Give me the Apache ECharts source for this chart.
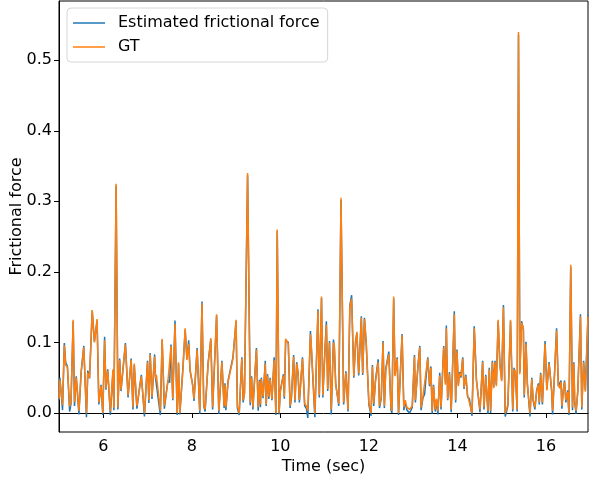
<!DOCTYPE html>
<html>
<head>
<meta charset="utf-8">
<script src="https://cdn.jsdelivr.net/npm/echarts@6/dist/echarts.min.js"></script>
<style>
html,body{margin:0;padding:0;background:#fff;}
#chart{width:589px;height:478px;}
</style>
</head>
<body>
<div id="chart"></div>
<script>
const times = [
  5.00,5.02,5.08,5.12,5.15,5.19,5.24,5.27,5.32,5.35,5.39,5.45,5.50,5.56,5.62,5.65,5.69,5.75,5.80,5.86,5.90,5.95,5.99,
  6.03,6.06,6.10,6.16,6.22,6.24,6.29,6.33,6.37,6.40,6.50,6.56,6.63,6.67,6.70,6.76,6.81,6.86,6.93,
  7.00,7.03,7.06,7.10,7.16,7.18,7.20,7.29,7.33,7.38,7.46,7.50,7.53,7.57,7.62,7.67,7.70,7.73,7.80,7.82,7.85,7.89,7.93,7.96,
  8.02,8.05,8.12,8.18,8.23,8.27,8.30,8.37,8.43,8.47,8.50,8.56,8.61,8.68,8.73,8.75,8.77,8.82,8.85,8.93,
  9.00,9.03,9.07,9.13,9.16,9.19,9.26,9.32,9.35,9.38,9.46,9.50,9.53,9.55,9.57,9.61,9.66,9.68,9.71,9.74,9.77,9.81,9.86,9.90,9.93,9.97,
  10.00,10.07,10.09,10.12,10.18,10.22,10.25,10.30,10.33,10.37,10.40,10.43,10.50,10.55,10.59,10.62,10.68,10.70,10.78,10.85,10.88,10.93,10.96,
  11.01,11.04,11.07,11.11,11.15,11.20,11.22,11.25,11.32,11.37,11.43,11.48,11.53,11.57,11.61,11.66,11.70,11.73,11.77,11.83,11.86,11.90,11.94,
  12.00,12.05,12.08,12.11,12.15,12.21,12.24,12.28,12.32,12.35,12.38,12.45,12.50,12.52,12.56,12.59,12.64,12.67,12.75,12.79,12.82,12.86,12.92,12.98,
  13.03,13.05,13.11,13.15,13.18,13.22,13.26,13.33,13.37,13.40,13.43,13.46,13.50,13.53,13.56,13.60,13.63,13.69,13.73,13.75,13.78,13.82,13.86,13.93,13.96,13.99,
  14.02,14.05,14.08,14.12,14.15,14.19,14.23,14.27,14.33,14.38,14.43,14.51,14.57,14.60,14.64,14.69,14.72,14.75,14.79,14.82,14.85,14.88,14.92,14.96,
  15.00,15.04,15.08,15.11,15.14,15.20,15.25,15.28,15.31,15.35,15.38,15.41,15.45,15.49,15.51,15.55,15.58,15.64,15.68,15.71,15.75,15.79,15.83,15.85,15.88,15.92,15.98,
  16.02,16.07,16.13,16.15,16.20,16.24,16.28,16.31,16.34,16.36,16.39,16.42,16.45,16.49,16.52,16.56,16.60,16.63,16.65,16.68,16.72,16.78,16.81,16.85,16.89,16.95
];

const gtForce = [
  0.020,0.047,0.011,0.096,0.068,0.065,0.009,0.015,0.132,0.015,0.050,0.003,0.057,0.093,0.000,0.057,0.050,0.146,0.100,0.133,0.015,0.038,0.000,
  0.103,0.035,0.060,0.002,0.062,0.007,0.325,0.008,0.075,0.033,0.097,0.025,0.075,0.008,0.070,0.010,0.030,0.052,0.000,
  0.072,0.018,0.083,0.023,0.080,0.048,0.054,0.003,0.105,0.010,0.044,0.044,0.095,0.020,0.126,0.000,0.072,0.000,0.062,0.064,0.120,0.075,0.098,0.062,
  0.038,0.020,0.090,0.003,0.155,0.012,0.005,0.070,0.106,0.008,0.006,0.140,0.003,0.072,0.010,0.040,0.008,0.044,0.046,0.077,
  0.132,0.010,0.000,0.077,0.018,0.027,0.340,0.015,0.050,0.008,0.090,0.008,0.045,0.012,0.048,0.023,0.070,0.012,0.053,0.023,0.048,0.020,0.075,0.000,0.260,0.000,
  0.030,0.053,0.023,0.105,0.098,0.010,0.023,0.080,0.018,0.070,0.058,0.018,0.077,0.013,0.010,0.003,0.112,0.094,0.000,0.145,0.025,0.165,0.025,
  0.090,0.125,0.034,0.100,0.005,0.100,0.095,0.040,0.013,0.305,0.015,0.057,0.005,0.150,0.162,0.052,0.100,0.115,0.056,0.135,0.056,0.133,0.100,
  0.015,0.000,0.066,0.013,0.045,0.072,0.010,0.023,0.100,0.010,0.060,0.083,0.008,0.003,0.165,0.052,0.077,0.000,0.110,0.008,0.018,0.008,0.005,0.010,
  0.080,0.018,0.066,0.093,0.008,0.023,0.025,0.077,0.040,0.064,0.003,0.038,0.005,0.020,0.003,0.053,0.008,0.093,0.040,0.120,0.020,0.056,0.005,0.140,0.018,0.088,
  0.038,0.056,0.052,0.077,0.036,0.052,0.025,0.023,0.000,0.120,0.045,0.005,0.072,0.008,0.052,0.003,0.062,0.003,0.072,0.035,0.072,0.038,0.132,0.067,
  0.045,0.150,0.000,0.005,0.012,0.132,0.005,0.062,0.058,0.005,0.540,0.055,0.128,0.120,0.025,0.098,0.040,0.000,0.048,0.020,0.008,0.030,0.040,0.015,0.055,0.015,0.098,
  0.032,0.070,0.032,0.003,0.062,0.117,0.040,0.035,0.044,0.010,0.030,0.044,0.018,0.030,0.000,0.210,0.008,0.070,0.018,0.003,0.030,0.137,0.008,0.072,0.030,0.137
];

const estForce = [
  0.018,0.050,0.004,0.099,0.072,0.066,0.002,0.013,0.130,0.010,0.052,-0.002,0.058,0.095,-0.006,0.060,0.049,0.145,0.101,0.131,0.012,0.040,-0.003,
  0.108,0.033,0.062,-0.003,0.060,0.004,0.322,0.005,0.077,0.031,0.099,0.022,0.077,0.005,0.068,0.006,0.032,0.054,-0.005,
  0.074,0.014,0.085,0.020,0.083,0.050,0.052,-0.003,0.103,0.006,0.046,0.043,0.097,0.018,0.131,-0.003,0.070,-0.002,0.065,0.066,0.118,0.077,0.103,0.060,
  0.040,0.017,0.092,-0.001,0.158,0.010,0.002,0.072,0.104,0.005,0.003,0.138,-0.001,0.074,0.007,0.042,0.004,0.046,0.045,0.079,
  0.130,0.007,-0.003,0.079,0.015,0.029,0.337,0.011,0.052,0.005,0.092,0.003,0.047,0.008,0.050,0.021,0.074,0.010,0.055,0.020,0.050,0.018,0.079,-0.003,0.258,-0.002,
  0.032,0.055,0.020,0.103,0.100,0.007,0.021,0.082,0.015,0.072,0.055,0.015,0.079,0.010,0.006,-0.007,0.116,0.092,-0.006,0.147,0.022,0.163,0.022,
  0.092,0.130,0.031,0.102,-0.002,0.104,0.093,0.042,0.010,0.302,0.012,0.059,0.002,0.152,0.167,0.050,0.102,0.113,0.053,0.137,0.054,0.135,0.098,
  0.012,-0.004,0.068,0.010,0.047,0.076,0.007,0.021,0.102,0.007,0.062,0.087,0.004,0.000,0.162,0.054,0.079,-0.003,0.112,0.004,0.016,0.004,0.000,0.008,
  0.082,0.015,0.068,0.095,0.004,0.021,0.027,0.079,0.038,0.066,-0.001,0.040,0.002,0.018,-0.002,0.057,0.005,0.095,0.042,0.124,0.018,0.058,0.001,0.144,0.015,0.090,
  0.040,0.058,0.050,0.079,0.034,0.054,0.023,0.020,-0.004,0.123,0.047,0.001,0.074,0.005,0.054,-0.001,0.064,0.000,0.074,0.037,0.074,0.040,0.130,0.069,
  0.047,0.153,-0.005,0.002,0.010,0.130,0.002,0.064,0.056,0.002,0.536,0.058,0.130,0.118,0.022,0.101,0.042,-0.005,0.050,0.018,0.005,0.032,0.042,0.012,0.057,0.012,0.102,
  0.034,0.072,0.030,-0.002,0.064,0.120,0.038,0.037,0.046,0.006,0.032,0.046,0.015,0.032,-0.003,0.207,0.004,0.072,0.015,-0.001,0.032,0.140,0.005,0.074,0.032,0.139
];

const xTicks = [6, 8, 10, 12, 14, 16];
const yTicks = [0.0, 0.1, 0.2, 0.3, 0.4, 0.5];
const seriesNames = ['Estimated frictional force', 'GT'];

const FONT = 'DejaVu Sans';
const chart = echarts.init(document.getElementById('chart'), null, {renderer: 'canvas'});

const estData = times.map((t, i) => [t, estForce[i]]);
const gtData = times.map((t, i) => [t, gtForce[i]]);

chart.setOption({
  animation: false,
  backgroundColor: '#fff',
  grid: {
    left: 59, top: 1, right: 1, bottom: 46,
    containLabel: false,
    outerBoundsMode: 'none',
    show: true, borderColor: '#000', borderWidth: 1, backgroundColor: 'transparent'
  },
  legend: {
    orient: 'vertical',
    left: 67, top: 8,
    icon: 'rect',
    itemWidth: 32, itemHeight: 1.5,
    itemGap: 6,
    padding: [6, 8, 6, 6],
    borderColor: '#d6d6d6', borderWidth: 1, borderRadius: 4,
    backgroundColor: '#fff',
    textStyle: {fontFamily: FONT, fontSize: 16, color: '#000', lineHeight: 18, padding: [0, 0, 0, 8]},
    data: seriesNames
  },
  xAxis: {
    type: 'value',
    min: 5, max: 16.95,
    name: 'Time (sec)',
    nameLocation: 'middle',
    nameGap: 27,
    nameMoveOverlap: false,
    nameTextStyle: {fontFamily: FONT, fontSize: 16, color: '#000'},
    axisLine: {show: true, lineStyle: {color: '#000', width: 1}},
    axisTick: {show: true, length: 5, lineStyle: {color: '#000'}, customValues: xTicks},
    axisLabel: {fontFamily: FONT, fontSize: 16, color: '#000', margin: 7, customValues: xTicks,
      formatter: v => String(v)},
    splitLine: {show: false}
  },
  yAxis: {
    type: 'value',
    min: -0.027, max: 0.584,
    name: 'Frictional force',
    nameLocation: 'middle',
    nameGap: 34,
    nameMoveOverlap: false,
    nameTextStyle: {fontFamily: FONT, fontSize: 16, color: '#000'},
    axisLine: {show: true, lineStyle: {color: '#000', width: 1}},
    axisTick: {show: true, length: 5, lineStyle: {color: '#000'}, customValues: yTicks},
    axisLabel: {fontFamily: FONT, fontSize: 16, color: '#000', margin: 7, customValues: yTicks,
      formatter: v => v.toFixed(1)},
    splitLine: {show: false}
  },
  series: [
    {
      name: seriesNames[0], type: 'line', data: estData,
      showSymbol: false, symbol: 'none',
      lineStyle: {color: '#1f77b4', width: 1.5},
      itemStyle: {color: '#1f77b4'},
      z: 2
    },
    {
      name: seriesNames[1], type: 'line', data: gtData,
      showSymbol: false, symbol: 'none',
      lineStyle: {color: '#ff7f0e', width: 1.5},
      itemStyle: {color: '#ff7f0e'},
      z: 3
    }
  ]
});
</script>
</body>
</html>
